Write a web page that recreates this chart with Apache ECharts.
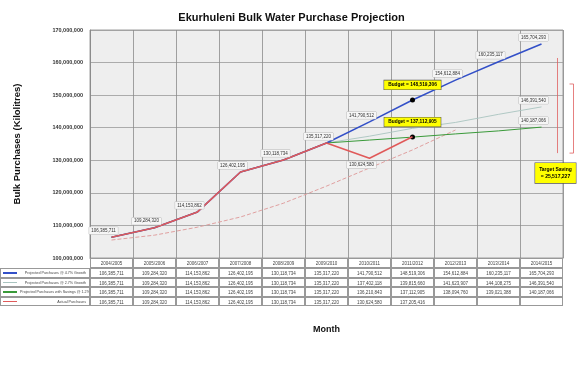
<!DOCTYPE html>
<html>
<head>
<meta charset="utf-8">
<script src="https://cdn.jsdelivr.net/npm/echarts@6/dist/echarts.min.js"></script>
<style>
  body { margin: 0; background: #fff; }
  #wrap { position: relative; width: 583px; height: 374px; }
  #chart { position: absolute; left: 0; top: 0; width: 583px; height: 374px; }
  #tbl { position: absolute; left: 0; top: 0; font-family: "Liberation Sans", Arial, sans-serif; }
  .cell { position: absolute; box-sizing: border-box; border: 0.6px solid #999; font-size: 4.5px; color: #444;
          text-align: center; white-space: nowrap; overflow: hidden; }
  .name { font-size: 3.7px; }
  .key { position: absolute; height: 1.5px; }
</style>
</head>
<body>
<div id="wrap">
  <div id="chart"></div>
  <div id="tbl"></div>
</div>
<script>
// chart data
let categories = ['2004/2005', '2005/2006', '2006/2007', '2007/2008', '2008/2009', '2009/2010',
                  '2010/2011', '2011/2012', '2012/2013', '2013/2014', '2014/2015'];
let projHigh = [106385711, 109284320, 114153862, 126402195, 130118734, 135317220,
                141790512, 148519306, 154612884, 160235117, 165704293];
let projMid = [106385711, 109284320, 114153862, 126402195, 130118734, 135317220,
               137402118, 139815660, 141623907, 144108275, 146391540];
let projSaving = [106385711, 109284320, 114153862, 126402195, 130118734, 135317220,
                  136210843, 137112905, 138094760, 139021388, 140187066];
let actual = [106385711, 109284320, 114153862, 126402195, 130118734, 135317220,
              130624580, 137205416];
let trend = [105520000, 107010000, 109460000, 112590000, 116830000, 122070000,
             127640000, 133180000, 139300000];
let seriesNames = ['Projected Purchases @ 4.7% Growth', 'Projected Purchases @ 2.7% Growth',
                   'Projected Purchases with Savings @ 1.2%', 'Actual Purchases'];
let seriesColors = ['#3350c8', '#a9c4c0', '#3a9a3a', '#e05a5a'];
let budgetIndex = 7;

function fmt(v) { return Number(v).toLocaleString('en-US'); }

let plainLabel = {
    show: true, fontSize: 4.5, color: '#333', backgroundColor: '#f6f6f6',
    borderColor: '#bbb', borderWidth: 0.5, padding: [1, 2],
    formatter: function (p) { return fmt(p.value); }
};
let budgetLabel = {
    show: true, fontSize: 4.8, fontWeight: 'bold', color: '#000', backgroundColor: '#ffff00',
    borderColor: '#555', borderWidth: 0.6, padding: [2, 4],
    formatter: function (p) { return 'Budget = ' + fmt(p.value); }
};

function buildData(values, labelled, budget, lowIdx) {
    return values.map(function (v, i) {
        let item = { value: v };
        if (i === budget) {
            item.label = Object.assign({}, budgetLabel, { position: 'top', distance: 8 });
            item.symbolSize = 5;
            item.itemStyle = { color: '#000' };
        } else if (labelled.indexOf(i) >= 0) {
            item.label = Object.assign({}, plainLabel,
                { position: i === lowIdx ? 'bottom' : 'top', offset: [-8, 0], distance: 3 });
        }
        return item;
    });
}

function lineSeries(idx, width, z, data) {
    return {
        name: seriesNames[idx], type: 'line', color: seriesColors[idx], z: z,
        symbol: 'circle', symbolSize: 0.1, showSymbol: true,
        lineStyle: { width: width },
        data: data
    };
}

var chart = echarts.init(document.getElementById('chart'));
var option = {
    backgroundColor: '#fff',
    animation: false,
    textStyle: { fontFamily: 'Liberation Sans, Arial, sans-serif' },
    title: {
        text: 'Ekurhuleni Bulk Water Purchase Projection',
        left: 'center', top: 7,
        textStyle: { fontSize: 11, fontWeight: 'bold', color: '#111' }
    },
    grid: {
        left: 90, right: 20, top: 30, bottom: 116,
        show: true, backgroundColor: '#eeeeee', borderColor: '#888', borderWidth: 0.8
    },
    xAxis: {
        type: 'category',
        data: categories,
        boundaryGap: true,
        name: 'Month', nameLocation: 'middle', nameGap: 67,
        nameTextStyle: { fontSize: 9, fontWeight: 'bold', color: '#111' },
        axisLine: { lineStyle: { color: '#888', width: 0.8 } },
        axisTick: { show: false },
        axisLabel: { fontSize: 4.5, color: '#444', margin: 3, interval: 0 },
        splitLine: { show: true, lineStyle: { color: '#8a8a8a', width: 0.8 } }
    },
    yAxis: {
        type: 'value',
        min: 100000000, max: 170000000, interval: 10000000,
        name: 'Bulk Purchases (Kilolitres)', nameLocation: 'middle', nameGap: 68,
        nameTextStyle: { fontSize: 9.5, fontWeight: 'bold', color: '#111' },
        axisLine: { show: true, lineStyle: { color: '#888', width: 0.8 } },
        axisTick: { show: false },
        axisLabel: { fontSize: 5.5, fontWeight: 'bold', color: '#333', margin: 7, formatter: fmt },
        splitLine: { lineStyle: { color: '#999', width: 0.8 } }
    },
    series: [
        lineSeries(0, 1.6, 3, buildData(projHigh, [6, 8, 9, 10], budgetIndex, -1)),
        lineSeries(1, 0.9, 2, buildData(projMid, [10], -1, -1)),
        lineSeries(2, 1, 2, buildData(projSaving, [10], budgetIndex, -1)),
        lineSeries(3, 1.6, 4, buildData(actual, [0, 1, 2, 3, 4, 5, 6], -1, 6)),
        {
            name: 'Linear (Actual Purchases)', type: 'line', color: '#e0a0a0', showSymbol: false, z: 1,
            lineStyle: { width: 1, type: 'dashed' },
            data: trend
        }
    ]
};
chart.setOption(option);

// target saving bracket, placed from the last projection values
let last = categories.length - 1;
let pHigh = chart.convertToPixel({ seriesIndex: 0 }, [last, projHigh[last]]);
let pLow = chart.convertToPixel({ seriesIndex: 0 }, [last, projSaving[last]]);
let bx = pHigh[0] + 16;
let saving = projHigh[last] - projSaving[last];
chart.setOption({
    graphic: [
        { type: 'line', shape: { x1: bx, y1: pHigh[1] + 14, x2: bx, y2: pLow[1] + 26 },
          style: { stroke: '#e06060', lineWidth: 0.8 } },
        { type: 'line', shape: { x1: bx + 16, y1: pHigh[1] + 40, x2: bx + 16, y2: pLow[1] + 26 },
          style: { stroke: '#e06060', lineWidth: 0.8 } },
        { type: 'line', shape: { x1: bx + 12, y1: pHigh[1] + 40, x2: bx + 16, y2: pHigh[1] + 40 },
          style: { stroke: '#e06060', lineWidth: 0.8 } },
        { type: 'line', shape: { x1: bx + 12, y1: pLow[1] + 26, x2: bx + 16, y2: pLow[1] + 26 },
          style: { stroke: '#e06060', lineWidth: 0.8 } },
        { type: 'text', x: bx - 2, y: pLow[1] + 36,
          style: { text: 'Target Saving\n= ' + fmt(saving), fill: '#000', fontSize: 5, fontWeight: 'bold',
                   align: 'center', backgroundColor: '#ffff00', borderColor: '#555', borderWidth: 0.6,
                   padding: [3, 4], lineHeight: 7 } }
    ]
});

// data table under the plot
(function buildTable() {
    let tbl = document.getElementById('tbl');
    let x0 = 90, colW = 473 / categories.length, top = 258, headH = 10, rowH = 9.5;
    let rows = [projHigh, projMid, projSaving, actual];
    function cell(x, y, w, h, text, extra, cls) {
        let d = document.createElement('div');
        d.className = 'cell' + (cls ? ' ' + cls : '');
        d.style.left = x + 'px'; d.style.top = y + 'px';
        d.style.width = w + 'px'; d.style.height = h + 'px';
        d.style.lineHeight = h + 'px';
        d.textContent = text;
        if (extra) Object.assign(d.style, extra);
        tbl.appendChild(d);
    }
    for (let c = 0; c < categories.length; c++) {
        cell(x0 + c * colW, top, colW, headH, '');
    }
    for (let r = 0; r < rows.length; r++) {
        let y = top + headH + r * rowH;
        cell(0, y, x0, rowH, seriesNames[r], { textAlign: 'right', paddingRight: '3px', paddingLeft: '19px' }, 'name');
        let k = document.createElement('div');
        k.className = 'key';
        k.style.left = '3px'; k.style.top = (y + rowH / 2 - 0.75) + 'px'; k.style.width = '14px';
        k.style.background = seriesColors[r];
        tbl.appendChild(k);
        for (let c = 0; c < categories.length; c++) {
            let v = rows[r][c];
            cell(x0 + c * colW, y, colW, rowH, v === undefined ? '' : fmt(v));
        }
    }
})();
</script>
</body>
</html>
